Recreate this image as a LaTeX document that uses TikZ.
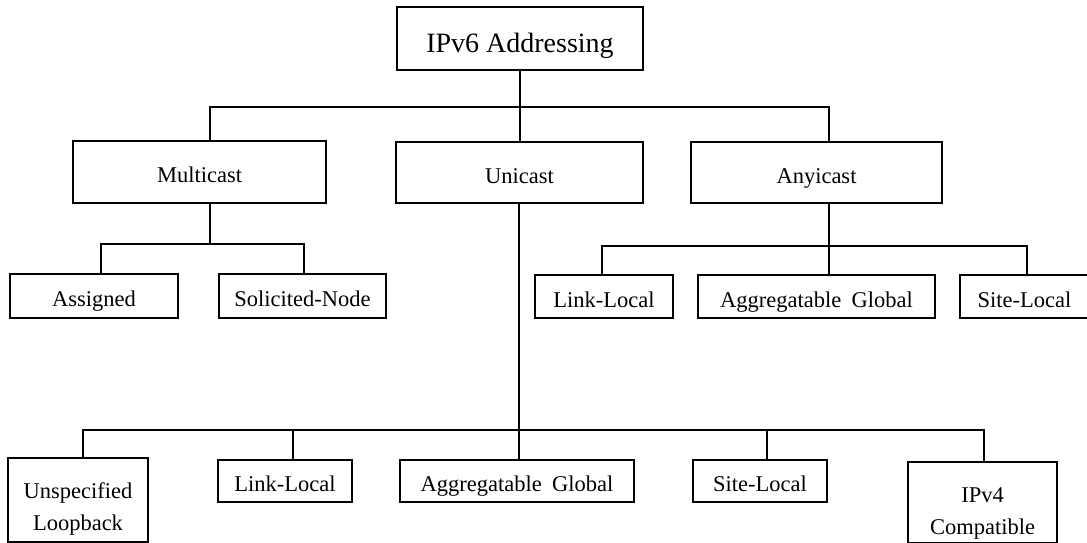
\documentclass[tikz,border=0pt]{standalone}
\usepackage{fontspec}
\setmainfont{Liberation Serif}
\begin{document}
\begin{tikzpicture}[x=1pt,y=-1pt,
  box/.style={draw,line width=1.8pt,inner sep=0pt,align=center,
    font=\fontsize{22.5}{32}\selectfont,text height=21pt,text depth=0pt},
  link/.style={line width=1.8pt}]
\useasboundingbox (0,0) rectangle (1087,543);

% root
\node[box,minimum width=246pt,minimum height=63pt,
  font=\fontsize{28}{34}\selectfont,text height=29pt]
  (ipv6) at (520,38.5) {IPv6 Addressing};

% address types
\node[box,minimum width=253pt,minimum height=62pt] (mc) at (199.5,172) {Multicast};
\node[box,minimum width=247pt,minimum height=61pt] (uc) at (519.5,172.5) {Unicast};
\node[box,minimum width=251pt,minimum height=61pt] (ac) at (816.5,172.5) {Anyicast};

% multicast kinds
\node[box,minimum width=168pt,minimum height=44pt] (asg) at (94,296) {Assigned};
\node[box,minimum width=167pt,minimum height=44pt] (sol) at (302.5,296) {Solicited-Node};

% anycast kinds
\node[box,minimum width=138pt,minimum height=43pt] (all) at (604,296.5) {Link-Local};
\node[box,minimum width=237pt,minimum height=43pt] (aag) at (816.5,296.5) {Aggregatable\hspace{0.45em}Global};
\node[box,minimum width=129pt,minimum height=43pt] (asl) at (1024.5,296.5) {Site-Local};

% unicast kinds (two-line boxes: baseline sits on the last line)
\node[box,minimum width=140pt,minimum height=84pt,text height=60pt,text depth=0pt]
  (usp) at (78,500) {Unspecified\\Loopback};
\node[box,minimum width=134pt,minimum height=42pt] (ull) at (285,481) {Link-Local};
\node[box,minimum width=234pt,minimum height=42pt] (uag) at (517,481) {Aggregatable\hspace{0.45em}Global};
\node[box,minimum width=134pt,minimum height=42pt] (usl) at (760,481) {Site-Local};
\node[box,minimum width=149pt,minimum height=81pt,text height=63pt,text depth=0pt]
  (uv4) at (982.5,502.5) {IPv4\\Compatible};

% bus junctions
\coordinate (bus1) at (519.5,107);
\coordinate (bus2) at (210,244);
\coordinate (bus3) at (829,246);
\coordinate (bus4) at (519,430);

% root to types
\draw[link] (ipv6.south) -- (ipv6.south |- uc.north);
\draw[link] ([xshift=10.5pt]mc.north) |- (bus1) -| ([xshift=12.5pt]ac.north);

% multicast branch
\draw[link] ([xshift=10.5pt]mc.south) -- (bus2);
\draw[link] ([xshift=7pt]asg.north) |- (bus2) -| ([xshift=1.5pt]sol.north);

% anycast branch
\draw[link] ([xshift=12.5pt]ac.south) -- ([xshift=12.5pt]aag.north);
\draw[link] ([xshift=-2pt]all.north) |- (bus3) -| ([xshift=2.5pt]asl.north);

% unicast branch
\draw[link] (uc.south -| bus4) -- (bus4 |- uag.north);
\draw[link] ([xshift=5pt]usp.north) |- (bus4) -| ([xshift=1.5pt]uv4.north);
\draw[link] ([xshift=8pt]ull.north) -- ([xshift=8pt]ull.north |- bus4);
\draw[link] ([xshift=7pt]usl.north) -- ([xshift=7pt]usl.north |- bus4);
\end{tikzpicture}
\end{document}
